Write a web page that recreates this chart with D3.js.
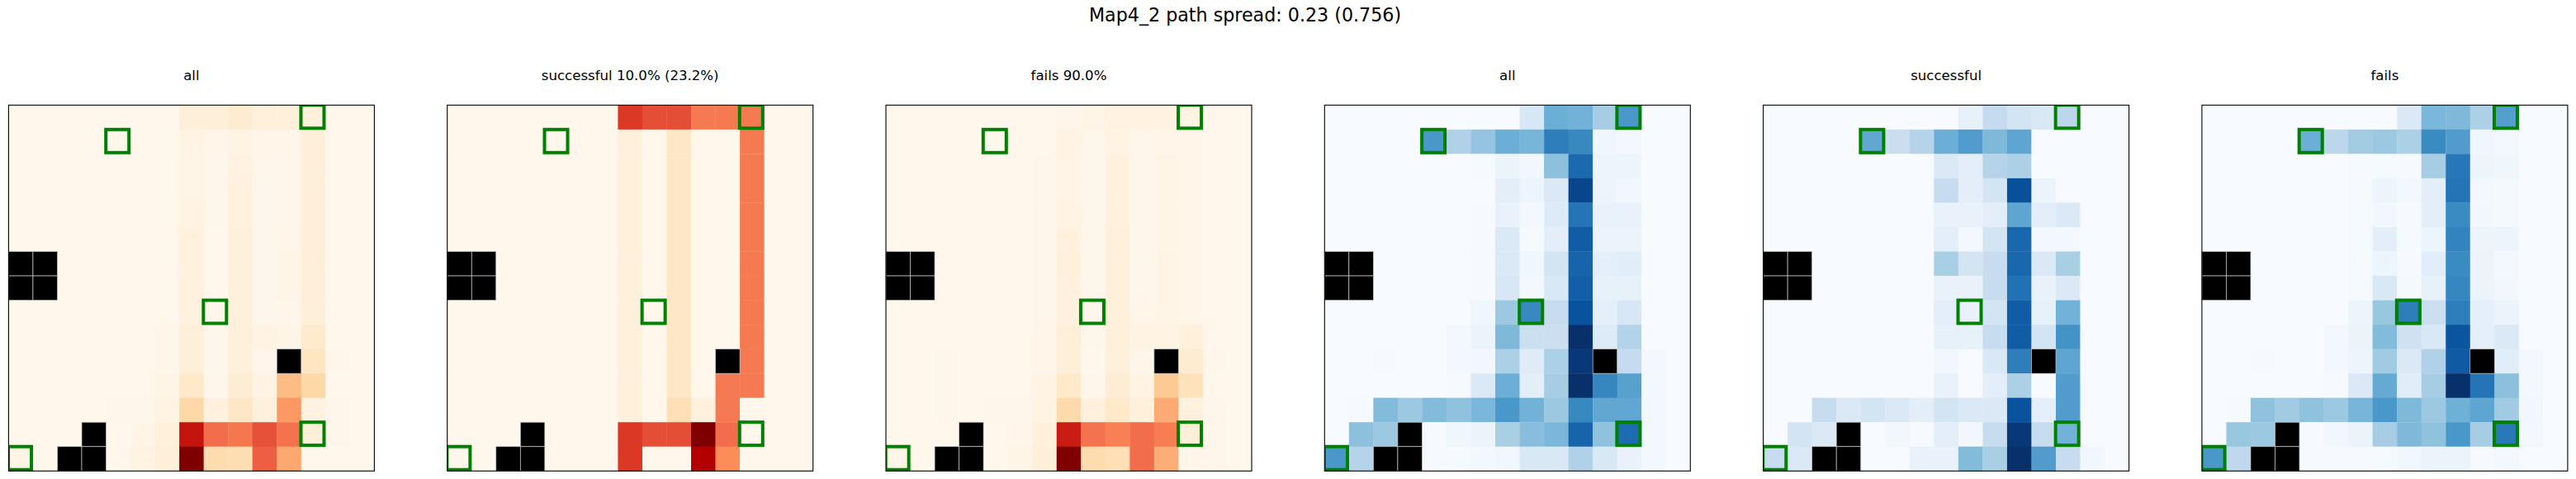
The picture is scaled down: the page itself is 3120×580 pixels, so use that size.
<!DOCTYPE html>
<html>
<head>
<meta charset="utf-8">
<script src="https://cdn.jsdelivr.net/npm/d3@7"></script>
<style>
  html, body { margin: 0; padding: 0; background: #fff; }
  svg { display: block; font-family: "DejaVu Sans", sans-serif; }
</style>
</head>
<body>
<svg width="3120" height="580"></svg>
<script>
// N marks a wall cell (drawn black)
const N = null;

const figureTitle = "Map4_2 path spread: 0.23 (0.756)";
const panelTitles = ["all", "successful 10.0% (23.2%)", "fails 90.0%", "all", "successful", "fails"];
const panelSchemes = ["OrRd", "OrRd", "OrRd", "Blues", "Blues", "Blues"];
const goalCells = [[0, 12], [1, 4], [8, 8], [13, 12], [14, 0]];

const stateAll = [
  [0,0,0,0,0,0,0,.07,.07,.09,.06,.06,.06,0,0],
  [0,0,0,0,0,0,0,.03,.01,.03,.01,.01,.07,0,0],
  [0,0,0,0,0,0,0,.02,.005,.04,.005,.005,.07,0,0],
  [0,0,0,0,0,0,0,.02,.005,.05,.005,.005,.07,0,0],
  [0,0,0,0,0,0,0,.03,.005,.05,.005,.005,.07,0,0],
  [0,0,0,0,0,0,0,.05,0,.06,.005,.01,.07,0,0],
  [N,N,0,0,0,0,0,.05,0,.06,.005,.02,.07,0,0],
  [N,N,0,0,0,0,0,.05,0,.06,.005,.02,.07,0,0],
  [0,0,0,0,0,0,0,.05,.005,.06,.005,.01,.07,0,0],
  [0,0,0,0,0,0,.01,.07,.005,.06,.03,.02,.11,0,0],
  [0,0,0,0,0,0,.01,.07,.005,.06,.01,N,.14,.005,0],
  [0,0,0,0,0,0,.02,.12,.005,.08,.03,.37,.22,0,0],
  [0,0,0,0,.005,.005,.03,.22,.05,.13,.06,.47,.04,.005,0],
  [0,0,0,N,0,.02,.06,.82,.6,.57,.67,.58,.07,.005,0],
  [.02,0,N,N,0,.03,.07,1,.2,.19,.64,.43,0,0,0]
];

const stateSuccess = [
  [0,0,0,0,0,0,0,.73,.68,.68,.56,.56,.56,0,0],
  [0,0,0,0,0,0,0,.06,0,.13,0,0,.56,0,0],
  [0,0,0,0,0,0,0,.06,0,.13,0,0,.56,0,0],
  [0,0,0,0,0,0,0,.06,0,.13,0,0,.56,0,0],
  [0,0,0,0,0,0,0,.06,0,.13,0,0,.56,0,0],
  [0,0,0,0,0,0,0,.06,0,.13,0,0,.56,0,0],
  [N,N,0,0,0,0,0,.06,0,.13,0,0,.56,0,0],
  [N,N,0,0,0,0,0,.06,0,.13,0,0,.56,0,0],
  [0,0,0,0,0,0,0,.06,0,.13,0,0,.56,0,0],
  [0,0,0,0,0,0,0,.06,0,.13,0,0,.56,0,0],
  [0,0,0,0,0,0,0,.06,0,.13,0,N,.56,0,0],
  [0,0,0,0,0,0,0,.06,0,.13,0,.56,.56,0,0],
  [0,0,0,0,0,0,0,.06,0,.18,.05,.56,0,0,0],
  [0,0,0,N,0,0,0,.73,.68,.68,1,.6,0,0,0],
  [0,0,N,N,0,0,0,.73,0,0,.875,.5,0,0,0]
];

const stateFails = [
  [0,0,0,0,0,0,0,.005,.02,.04,.04,.04,.03,0,0],
  [0,0,0,0,0,0,0,.03,.005,.03,.005,.015,.01,0,0],
  [0,0,0,0,0,0,.005,.025,.005,.05,.005,.02,.015,0,0],
  [0,0,0,0,0,0,.005,.025,.005,.05,.005,.02,.015,0,0],
  [0,0,0,0,0,0,.005,.03,.005,.05,.005,.02,.015,0,0],
  [0,0,0,0,0,0,.005,.05,.005,.06,.005,.02,.015,0,0],
  [N,N,0,0,0,0,.005,.06,.005,.06,.005,.025,.015,0,0],
  [N,N,0,0,0,0,.005,.05,.005,.06,.005,.025,.015,0,0],
  [0,0,0,0,0,0,.005,.05,.005,.06,.01,.02,.015,0,0],
  [0,0,0,0,0,0,.015,.07,.005,.06,.03,.03,.06,0,0],
  [0,0,.005,0,0,0,.015,.07,0,.06,.01,N,.09,.005,0],
  [0,0,.005,0,0,0,.03,.12,.005,.08,.03,.3,.16,0,0],
  [0,0,.005,0,.005,.005,.035,.21,.05,.12,.06,.42,.05,.005,0],
  [0,0,0,N,0,.015,.06,.8,.58,.54,.6,.55,.07,.005,0],
  [.02,0,N,N,0,.02,.07,1,.2,.18,.6,.41,.01,.005,0]
];

const actionAll = [
  [0,0,0,0,0,0,0,0,.16,.5,.48,.35,.6,0,0],
  [0,0,0,0,.6,.32,.4,.5,.47,.7,.66,.04,.02,0,0],
  [0,0,0,0,0,0,.01,.06,.03,.42,.78,.05,.05,0,0],
  [0,0,0,0,0,0,0,.1,.05,.14,.92,.05,.03,0,0],
  [0,0,0,0,0,0,.005,.07,.02,.13,.74,.07,.07,0,0],
  [0,0,0,0,0,0,.005,.14,.01,.1,.83,.06,.06,0,0],
  [N,N,0,0,0,0,.005,.14,.04,.18,.8,.09,.11,0,0],
  [N,N,0,0,0,0,.005,.16,.02,.15,.82,.08,.08,0,0],
  [0,0,0,0,0,0,.04,.38,.66,.24,.87,.09,.16,0,0],
  [0,0,0,0,0,.02,.06,.45,.22,.22,1,.13,.31,0,0],
  [0,0,.005,0,0,.02,.03,.33,.12,.33,.97,N,.25,.02,0],
  [0,0,0,0,0,.005,.14,.5,.1,.35,1,.67,.56,.02,0],
  [0,.005,.44,.38,.44,.41,.46,.6,.48,.38,.66,.53,.53,.02,0],
  [0,.42,.38,N,.005,.04,.06,.34,.43,.46,.8,.41,.77,.02,0],
  [.6,.3,N,N,.005,.01,.025,.03,.15,.15,.32,.15,.07,.02,0]
];

const actionSuccess = [
  [0,0,0,0,0,0,0,0,.08,.25,.18,.15,.28,0,0],
  [0,0,0,0,.53,.23,.3,.5,.58,.45,.54,0,0,0,0],
  [0,0,0,0,0,0,0,.14,.1,.3,.33,0,0,0,0],
  [0,0,0,0,0,0,0,.24,.1,.18,.88,.06,0,0,0],
  [0,0,0,0,0,0,0,.07,.07,.1,.54,.1,.14,0,0],
  [0,0,0,0,0,0,0,.1,.02,.18,.79,.02,.02,0,0],
  [N,N,0,0,0,0,0,.34,.18,.24,.79,.14,.34,0,0],
  [N,N,0,0,0,0,0,.07,.07,.24,.75,.07,.14,0,0],
  [0,0,0,0,0,0,0,.1,.07,.18,.83,.08,.48,0,0],
  [0,0,0,0,0,0,0,.08,.08,.24,.83,.18,.62,0,0],
  [0,0,0,0,0,0,0,.03,0,.15,.7,N,.54,0,0],
  [0,0,0,0,0,0,0,.07,0,.1,.33,0,.58,0,0],
  [0,0,.24,.14,.18,.14,.1,.18,.14,.14,.87,.09,.58,0,0],
  [0,.18,.14,N,0,.03,.005,.1,.03,.24,.97,.24,.48,0,0],
  [.24,.14,N,N,0,0,.07,.07,.44,.34,1,.58,.24,.03,0]
];

const actionFails = [
  [0,0,0,0,0,0,0,0,.14,.46,.45,.33,.57,0,0],
  [0,0,0,0,.5,.28,.36,.38,.33,.65,.58,.04,.02,0,0],
  [0,0,0,0,0,0,.01,.01,.005,.35,.73,.05,.04,0,0],
  [0,0,0,0,0,0,.005,.05,.02,.1,.74,.02,.015,0,0],
  [0,0,0,0,0,0,.01,.03,.005,.1,.65,.03,.015,0,0],
  [0,0,0,0,0,0,.01,.1,.01,.05,.68,.05,.05,0,0],
  [N,N,0,0,0,0,.01,.05,.005,.11,.65,.06,.02,0,0],
  [N,N,0,0,0,0,.01,.15,.015,.08,.67,.06,.03,0,0],
  [0,0,0,0,0,0,.05,.39,.7,.22,.7,.09,.06,0,0],
  [0,0,0,0,0,.02,.06,.44,.2,.15,.86,.09,.14,0,0],
  [0,0,.005,0,0,.02,.05,.37,.14,.32,.84,N,.11,.02,0],
  [0,0,0,0,0,.005,.14,.52,.11,.35,1,.74,.42,.02,0],
  [0,.005,.41,.37,.41,.38,.47,.6,.45,.38,.49,.54,.37,.03,0],
  [0,.39,.38,N,.005,.03,.06,.35,.45,.41,.6,.35,.72,.02,0],
  [.6,.27,N,N,.005,.005,.005,.01,.03,.06,.06,.005,.02,0,0]
];

const panelData = [stateAll, stateSuccess, stateFails, actionAll, actionSuccess, actionFails];

const svg = d3.select("svg");
const size = 443, plotTop = 127.3, firstLeft = 10.4, step = 531.3;
const cells = d3.range(15);
const stops = d3.range(9).map(d => d / 8);

svg.append("text")
    .attr("x", 1508)
    .attr("y", 26)
    .attr("text-anchor", "middle")
    .attr("font-size", 22.2)
    .attr("fill", "#000")
    .text(figureTitle);

panelData.forEach(function(rows, i) {
  let x = d3.scaleBand().domain(cells).range([0, size]);
  let y = d3.scaleBand().domain(cells).range([0, size]);
  let color = d3.scaleLinear().domain(stops).range(panelSchemes[i] == "OrRd" ? d3.schemeOrRd[9] : d3.schemeBlues[9]);

  let g = svg.append("g")
      .attr("transform", "translate(" + (firstLeft + i * step) + "," + plotTop + ")");

  g.append("clipPath")
      .attr("id", "clip" + i)
    .append("rect")
      .attr("width", size)
      .attr("height", size);

  let points = rows.flatMap((row, r) => row.map((v, c) => ({r: r, c: c, v: v})));

  g.append("g")
    .selectAll("rect")
    .data(points.filter(d => d.v !== N))
    .enter().append("rect")
      .attr("x", d => x(d.c))
      .attr("y", d => y(d.r))
      .attr("width", x.bandwidth() + 0.3)
      .attr("height", y.bandwidth() + 0.3)
      .attr("fill", d => color(d.v));

  g.append("g")
    .selectAll("rect")
    .data(points.filter(d => d.v === N))
    .enter().append("rect")
      .attr("x", d => x(d.c))
      .attr("y", d => y(d.r))
      .attr("width", x.bandwidth())
      .attr("height", y.bandwidth())
      .attr("fill", "#000")
      .attr("stroke", "#c8c8c8")
      .attr("stroke-width", 0.7);

  // goal squares are a bit smaller than a cell and sit about a pixel up-left of its centre
  g.append("g")
      .attr("clip-path", "url(#clip" + i + ")")
    .selectAll("rect")
    .data(goalCells)
    .enter().append("rect")
      .attr("x", d => x(d[1]) + x.bandwidth() / 2 - 14 - 1.1)
      .attr("y", d => y(d[0]) + y.bandwidth() / 2 - 14 - 0.8)
      .attr("width", 28)
      .attr("height", 28)
      .attr("fill", "none")
      .attr("stroke", "#008000")
      .attr("stroke-width", 4);

  g.append("rect")
      .attr("width", size)
      .attr("height", size)
      .attr("fill", "none")
      .attr("stroke", "#000")
      .attr("stroke-width", 1.1);

  g.append("text")
      .attr("x", size / 2)
      .attr("y", 97 - plotTop)
      .attr("text-anchor", "middle")
      .attr("font-size", 16.6)
      .attr("fill", "#000")
      .text(panelTitles[i]);
});
</script>
</body>
</html>
